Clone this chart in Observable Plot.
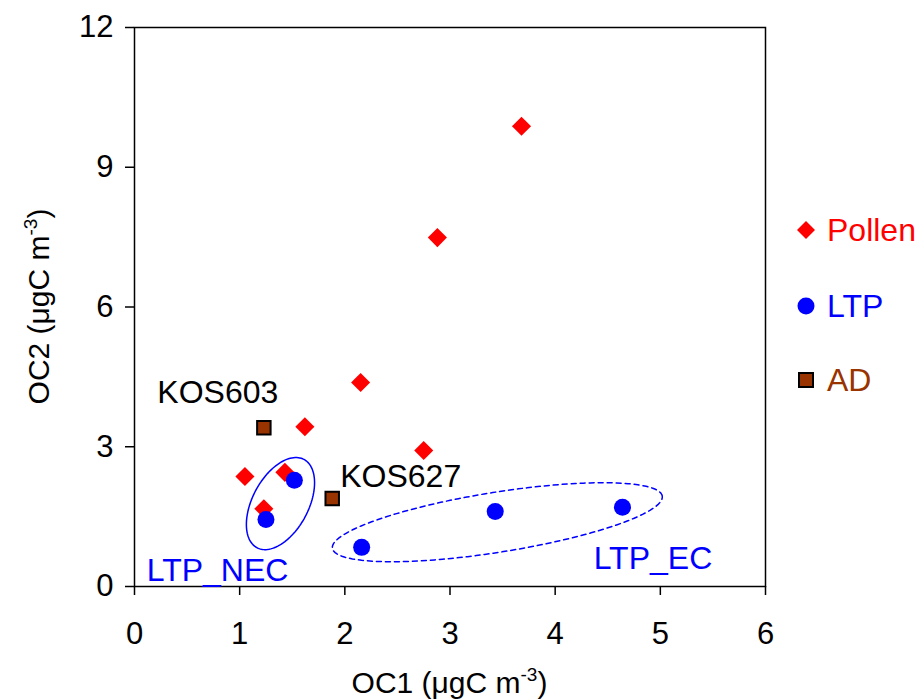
<!DOCTYPE html>
<html>
<head>
<meta charset="utf-8">
<script src="https://cdn.jsdelivr.net/npm/d3@7"></script>
<script src="https://cdn.jsdelivr.net/npm/@observablehq/plot@0.6"></script>
<style>
  body { margin: 0; background: #fff; font-family: "Liberation Sans", Arial, sans-serif; }
  #wrap { position: relative; width: 919px; height: 699px; }
  #legend { position: absolute; left: 0; top: 0; font-size: 32px; }
  #legend div { position: absolute; display: flex; align-items: center; height: 40px; white-space: nowrap; }
  #legend svg { margin-right: 11px; }
</style>
</head>
<body>
<div id="wrap"><div id="legend"></div></div>
<script>
// ---- data ----
const pollenX = [3.68, 2.88, 2.15, 1.62, 2.75, 1.05, 1.43, 1.23];
const pollenY = [9.88, 7.49, 4.38, 3.43, 2.92, 2.36, 2.45, 1.67];
const ltpX = [1.52, 1.25, 2.16, 3.43, 4.64];
const ltpY = [2.28, 1.44, 0.84, 1.61, 1.70];
const adX = [1.23, 1.88];
const adY = [3.41, 1.89];
const adNames = ["KOS603", "KOS627"];
const groupLabels = ["LTP_NEC", "LTP_EC"];
const groupLabelX = [0.79, 4.93];
const groupLabelY = [0.34, 0.60];
const xTicks = [0, 1, 2, 3, 4, 5, 6];
const yTicks = [0, 3, 6, 9, 12];
const seriesNames = ["Pollen", "LTP", "AD"];
const seriesColors = ["#ff0000", "#0000ff", "#993300"];

// ---- layout ----
const W = 919, H = 699;
const mL = 134, mR = 154, mT = 27, mB = 113;
const kx = (W - mL - mR) / 6, ky = (H - mT - mB) / 12;

function ellipse(cx, cy, a, b, deg) {
  const th = deg * Math.PI / 180, pts = [];
  for (let i = 0; i <= 120; i++) {
    const t = i / 120 * 2 * Math.PI;
    const px = a * Math.cos(t) * Math.cos(th) - b * Math.sin(t) * Math.sin(th);
    const py = a * Math.cos(t) * Math.sin(th) + b * Math.sin(t) * Math.cos(th);
    pts.push({x: cx + px / kx, y: cy + py / ky});
  }
  return pts;
}
const necEllipse = ellipse(1.388, 1.78, 50, 28, 62);
const ecEllipse = ellipse(3.45, 1.38, 167, 30, 9);

const pollen = pollenX.map((x, i) => ({x, y: pollenY[i]}));
const ltp = ltpX.map((x, i) => ({x, y: ltpY[i]}));
const ad = adX.map((x, i) => ({x, y: adY[i], name: adNames[i]}));
const groups = groupLabels.map((t, i) => ({t, x: groupLabelX[i], y: groupLabelY[i]}));

const plot = Plot.plot({
  width: W, height: H,
  marginLeft: mL, marginRight: mR, marginTop: mT, marginBottom: mB,
  style: {fontFamily: "Liberation Sans, Arial, sans-serif", fontSize: "31px", background: "white", overflow: "visible"},
  x: {domain: [0, 6], label: null},
  y: {domain: [0, 12], label: null},
  marks: [
    Plot.frame({stroke: "black", strokeWidth: 1.5}),
    Plot.axisX({ticks: xTicks, tickFormat: d3.format("d"), tickSize: 9, tickPadding: 26, fontSize: 31, label: null, strokeWidth: 1.5}),
    Plot.axisY({ticks: yTicks, tickFormat: d3.format("d"), tickSize: 9, tickPadding: 12, fontSize: 31, label: null, strokeWidth: 1.5}),
    Plot.line(necEllipse, {x: "x", y: "y", stroke: "#0000ff", strokeWidth: 1.5}),
    Plot.line(ecEllipse, {x: "x", y: "y", stroke: "#0000ff", strokeWidth: 1.5, strokeDasharray: "5,4"}),
    Plot.dot(pollen, {x: "x", y: "y", symbol: "diamond2", r: 8.6, fill: "#ff0000", stroke: "none"}),
    Plot.dot(ltp, {x: "x", y: "y", symbol: "circle", r: 8.5, fill: "#0000ff", stroke: "none"}),
    Plot.dot(ad, {x: "x", y: "y", symbol: "square", r: 7.6, fill: "#993300", stroke: "black", strokeWidth: 2}),
    Plot.text([ad[0]], {x: "x", y: "y", text: "name", dx: -46, dy: -35, fontSize: 32, fill: "black"}),
    Plot.text([ad[1]], {x: "x", y: "y", text: "name", dx: 8, dy: -22, textAnchor: "start", fontSize: 32, fill: "black"}),
    Plot.text(groups, {x: "x", y: "y", text: "t", fontSize: 32, fill: "#0000ff"})
  ]
});

const svg = d3.select(plot);
// axis titles with superscripts
const xl = svg.append("text").attr("x", mL + (W - mL - mR) / 2).attr("y", 693)
  .attr("text-anchor", "middle").attr("font-size", 30).attr("fill", "black");
xl.append("tspan").text("OC1 (μgC m");
xl.append("tspan").text("-3").attr("font-size", 19).attr("dy", -12);
xl.append("tspan").text(")").attr("dy", 12);

const yl = svg.append("text").attr("transform", `translate(49,${mT + (H - mT - mB) / 2}) rotate(-90)`)
  .attr("text-anchor", "middle").attr("font-size", 30).attr("fill", "black");
yl.append("tspan").text("OC2 (μgC m");
yl.append("tspan").text("-3").attr("font-size", 19).attr("dy", -12);
yl.append("tspan").text(")").attr("dy", 12);

document.getElementById("wrap").prepend(plot);

// legend
const leg = d3.select("#legend");
const symbols = ["diamond", "circle", "square"];
const legTops = [210, 286, 360];
seriesNames.forEach((name, i) => {
  const row = leg.append("div").style("color", seriesColors[i]).style("left", "796px").style("top", legTops[i] + "px");
  const s = row.append("svg").attr("width", 20).attr("height", 20);
  if (symbols[i] === "diamond") s.append("path").attr("d", "M10,1L19,10L10,19L1,10Z").attr("fill", seriesColors[i]);
  else if (symbols[i] === "circle") s.append("circle").attr("cx", 10).attr("cy", 10).attr("r", 8.5).attr("fill", seriesColors[i]);
  else s.append("rect").attr("x", 3).attr("y", 3).attr("width", 14).attr("height", 14).attr("fill", seriesColors[i]).attr("stroke", "black").attr("stroke-width", 2);
  row.append("span").text(name);
});
</script>
</body>
</html>
